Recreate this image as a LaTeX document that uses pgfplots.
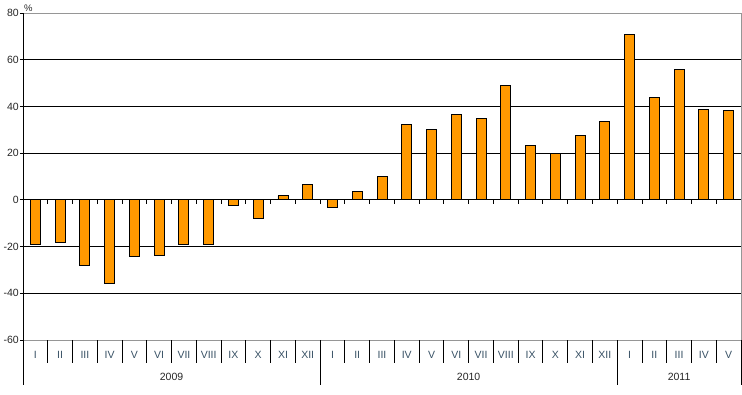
\documentclass[border=0pt]{standalone}
\usepackage{fontspec}
\setmainfont{Liberation Sans}
\usepackage{pgfplots}
\pgfplotsset{compat=1.18}
\definecolor{barorange}{RGB}{255,153,0}
\definecolor{monthcol}{RGB}{55,80,100}
\definecolor{boxgray}{RGB}{150,150,150}
\begin{document}
\begin{tikzpicture}[font=\fontsize{10.5}{12}\selectfont]
\path[use as bounding box] (-23pt,-54pt) rectangle (719pt,340pt);
\begin{axis}[
  at={(0pt,0pt)}, anchor=south west,
  width=718pt, height=327pt, scale only axis,
  xmin=-0.5, xmax=28.5, ymin=-60, ymax=80,
  clip=false,
  axis line style={draw=none},
  xtick={0,...,28},
  xticklabels={I,II,III,IV,V,VI,VII,VIII,IX,X,XI,XII,I,II,III,IV,V,VI,VII,VIII,IX,X,XI,XII,I,II,III,IV,V},
  x tick style={draw=none},
  xticklabel style={anchor=center, yshift=-12pt, text=monthcol, font=\fontsize{10.5}{12}\selectfont},
  ytick={-60,-40,...,80},
  ytick pos=left,
  y tick style={black, line width=0.8pt},
  tick align=outside,
  major tick length=3pt,
  yticklabel style={text=black!85, inner sep=1pt, font=\fontsize{10.5}{12}\selectfont},
  /pgf/number format/assume math mode=true,
]
% grid lines
\pgfplotsinvokeforeach{-40,-20,20,40,60}{
  \draw[black, line width=0.9pt] (axis cs:-0.5,#1) -- (axis cs:28.5,#1);
}
% bars
\addplot[ybar, bar width=10pt, fill=barorange, draw=black, line width=0.9pt] coordinates {
 (0,-19.3) (1,-18.4) (2,-28.2) (3,-36.0) (4,-24.4) (5,-24.0) (6,-19.3) (7,-19.3)
 (8,-2.3) (9,-7.8) (10,1.7) (11,6.4)
 (12,-3.4) (13,3.4) (14,10.1) (15,32.3) (16,30.1) (17,36.5) (18,34.8) (19,48.9)
 (20,23.3) (21,19.7) (22,27.6) (23,33.5)
 (24,70.9) (25,43.7) (26,56.0) (27,38.7) (28,38.2)
};
% frame
\draw[boxgray, line width=0.9pt] (axis cs:-0.5,-60) -- (axis cs:28.5,-60) -- (axis cs:28.5,80) -- (axis cs:-0.5,80);
\draw[black, line width=0.9pt] (axis cs:-0.5,80) -- ([yshift=-45pt]axis cs:-0.5,-60);
% zero line with ticks
\draw[black, line width=0.9pt] (axis cs:-0.5,0) -- (axis cs:28.5,0);
\pgfplotsinvokeforeach{0.5,1.5,...,27.5}{
  \draw[black, line width=0.9pt] (axis cs:#1,0) -- ([yshift=-4pt]axis cs:#1,0);
  \draw[black, line width=0.9pt] (axis cs:#1,-60) -- ([yshift=-23pt]axis cs:#1,-60);
}
\pgfplotsinvokeforeach{11.5,23.5,28.5}{
  \draw[black, line width=0.9pt] (axis cs:#1,-60) -- ([yshift=-45pt]axis cs:#1,-60);
}
% year labels
\node[text=black!85] at ([yshift=-37pt]axis cs:5.5,-60) {2009};
\node[text=black!85] at ([yshift=-37pt]axis cs:17.5,-60) {2010};
\node[text=black!85] at ([yshift=-37pt]axis cs:26,-60) {2011};
\node[anchor=south west, inner sep=1pt, text=black!85, font=\fontsize{9.5}{11}\selectfont] at (rel axis cs:0,1) {\%};
\end{axis}
\end{tikzpicture}
\end{document}
